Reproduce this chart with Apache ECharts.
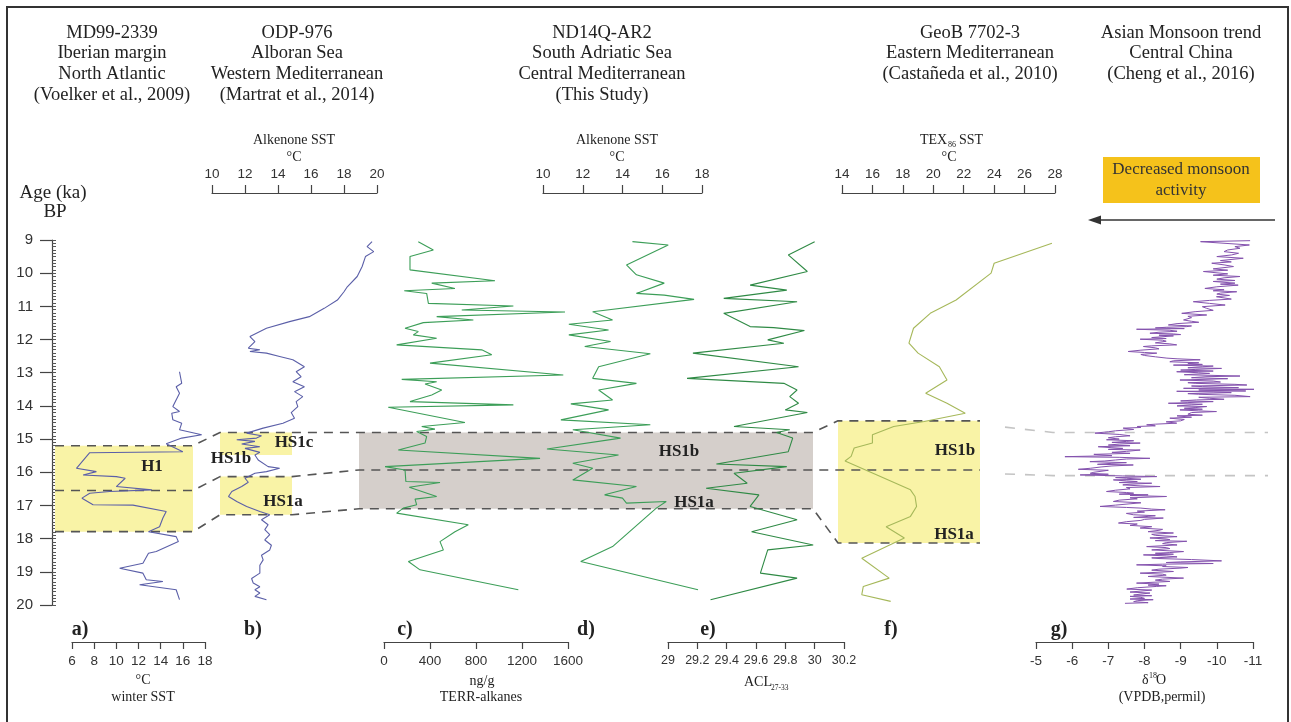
<!DOCTYPE html>
<html><head><meta charset="utf-8">
<script src="https://cdn.jsdelivr.net/npm/echarts@6/dist/echarts.min.js"></script>
<style>html,body{margin:0;padding:0;background:#fff}#c{width:1291px;height:722px}</style>
</head><body><div id="c"></div>
<script>
// ---------- DATA: [age ka BP, value] ----------
const ageTicks = [9,10,11,12,13,14,15,16,17,18,19,20];
// a) MD99-2339 winter SST (°C)
const md99_2339 = [[12.97,15.7],[13.32,15.9],[13.42,15.4],[13.62,15.7],[14.02,15.1],[14.17,15.7],[14.22,15.0],[14.42,15.1],[14.52,15.9],[14.72,15.7],[14.87,17.7],[14.97,15.9],[15.14,14.5],[15.38,16.0],[15.41,7.6],[15.88,6.4],[15.98,8.2],[16.08,7.0],[16.13,10.0],[16.18,10.8],[16.43,10.0],[16.53,13.2],[16.58,9.4],[16.63,7.6],[16.78,6.9],[16.98,7.9],[16.99,11.5],[17.18,14.5],[17.38,14.2],[17.64,13.9],[17.79,12.9],[17.94,15.4],[18.09,15.6],[18.39,13.6],[18.44,12.9],[18.74,12.4],[18.89,10.3],[19.04,12.4],[19.24,12.7],[19.29,14.2],[19.39,12.1],[19.54,15.4],[19.84,15.7]];
// b) ODP-976 alkenone SST (°C)
const odp976 = [[9.05,19.7],[9.2,19.4],[9.35,19.8],[9.5,19.3],[9.8,19.1],[10.1,18.8],[10.41,18.2],[10.56,18.0],[10.81,17.6],[11.06,16.8],[11.31,15.9],[11.46,14.7],[11.66,13.3],[11.91,12.3],[12.06,12.6],[12.26,12.2],[12.31,12.9],[12.36,12.3],[12.41,13.3],[12.51,14.1],[12.61,14.9],[12.82,15.6],[12.97,15.1],[13.12,15.4],[13.27,14.9],[13.42,15.6],[13.57,15.0],[13.72,15.5],[13.87,15.1],[14.02,15.2],[14.2,14.8],[14.37,15.0],[14.52,14.3],[14.67,13.1],[14.82,12.1],[14.9,13.0],[14.97,12.7],[15.02,11.5],[15.07,12.6],[15.15,11.8],[15.23,12.9],[15.28,12.0],[15.33,11.9],[15.4,12.9],[15.48,12.6],[15.63,12.8],[15.83,13.4],[15.88,14.1],[15.98,13.3],[16.03,12.6],[16.18,12.0],[16.3,12.2],[16.43,11.8],[16.58,11.2],[16.73,11.0],[16.88,11.5],[17.03,12.1],[17.18,12.9],[17.28,13.5],[17.43,13.0],[17.58,13.4],[17.73,13.2],[17.88,13.5],[18.04,13.2],[18.2,13.6],[18.34,13.5],[18.5,13.0],[18.64,13.1],[18.8,12.9],[19.04,12.9],[19.2,12.4],[19.34,12.5],[19.45,12.9],[19.54,12.6],[19.64,12.9],[19.74,12.6],[19.84,13.3]];
// c) ND14Q-AR2 TERR-alkanes (ng/g)
const terrAlkanes = [[9.05,298],[9.3,429],[9.5,226],[9.9,226],[10.23,965],[10.3,415],[10.46,617],[10.53,176],[10.61,371],[10.91,386],[10.99,1125],[11.11,676],[11.17,1574],[11.31,458],[11.41,777],[11.49,342],[11.66,183],[11.76,298],[11.86,255],[11.96,458],[12.16,110],[12.31,850],[12.46,937],[12.71,400],[13.07,1559],[13.2,154],[13.27,458],[13.34,357],[13.52,502],[13.67,415],[13.87,226],[13.97,1125],[14.04,37],[14.5,704],[14.62,328],[14.7,443],[14.77,284],[14.92,371],[15.12,357],[15.33,124],[15.58,1357],[15.83,9],[15.93,183],[16.28,190],[16.31,487],[16.45,220],[16.73,458],[16.81,270],[16.98,284],[17.08,168],[17.23,110],[17.58,733],[17.79,617],[18.09,487],[18.34,516],[18.69,212],[18.94,313],[19.54,1168]];
// d) ND14Q-AR2 alkenone SST (°C)
const nd14qSST = [[9.05,14.5],[9.15,16.3],[9.75,14.2],[10.05,14.7],[10.3,16.1],[10.61,14.7],[10.66,16.1],[10.79,17.6],[11.16,12.5],[11.41,13.5],[11.54,11.3],[11.71,13.3],[11.86,11.3],[12.06,13.4],[12.21,12.1],[12.43,15.4],[12.82,12.8],[13.17,12.5],[13.32,14.7],[13.52,12.8],[13.82,13.5],[13.94,11.4],[14.12,13.3],[14.42,10.9],[14.57,15.4],[14.72,11.5],[14.97,13.9],[15.3,10.2],[15.48,13.8],[15.73,11.5],[15.88,12.5],[16.23,11.5],[16.43,14.7],[16.68,13.1],[16.78,14.0],[16.93,14.2],[16.88,16.2],[17.08,15.7],[18.24,13.5],[18.69,11.9],[19.54,17.8]];
// e) ND14Q-AR2 ACL27-33
const acl = [[9.05,30.0],[9.45,29.82],[9.95,29.95],[10.36,29.56],[10.51,29.81],[10.76,29.38],[10.86,29.88],[11.21,29.38],[11.61,29.56],[11.64,29.72],[11.73,29.93],[12.01,29.68],[12.11,29.79],[12.41,29.17],[12.82,29.89],[13.17,29.13],[13.32,29.79],[13.52,29.88],[13.72,29.83],[13.92,29.89],[14.12,29.8],[14.2,29.95],[14.62,29.45],[14.72,29.83],[14.8,29.74],[14.97,29.85],[15.38,29.82],[15.75,29.33],[15.83,29.81],[16.03,29.45],[16.33,29.54],[16.48,29.26],[16.68,29.62],[17.03,29.56],[17.43,29.88],[17.79,29.57],[18.19,29.99],[18.34,29.68],[19.04,29.63],[19.19,29.88],[19.84,29.29]];
// f) GeoB 7702-3 TEX86 SST (°C)
const geoB = [[9.1,27.8],[9.7,24.0],[10.0,23.8],[10.81,21.5],[11.21,19.8],[11.66,18.7],[12.11,18.4],[12.41,19.0],[12.82,20.4],[13.22,20.9],[13.62,19.5],[13.92,20.9],[14.22,22.1],[14.47,19.4],[14.62,17.4],[14.87,16.0],[15.12,16.0],[15.27,14.8],[15.52,14.6],[15.66,14.2],[16.08,16.3],[16.53,18.5],[16.73,18.8],[17.03,18.9],[17.33,18.5],[17.64,16.9],[17.98,18.1],[18.59,15.3],[19.19,17.1],[19.44,15.4],[19.69,15.3],[19.89,17.2]];
// g) Asian monsoon d18O (permil VPDB)
const d18O = [[9.02,-10.92],[9.05,-9.55],[9.1,-9.53],[9.15,-10.9],[9.2,-10.5],[9.25,-10.64],[9.3,-10.3],[9.35,-10.2],[9.4,-10.6],[9.45,-10.41],[9.5,-10.0],[9.55,-10.73],[9.62,-10.1],[9.66,-10.4],[9.7,-9.86],[9.75,-10.2],[9.8,-10.46],[9.87,-9.9],[9.91,-10.3],[9.95,-9.63],[10.02,-10.3],[10.06,-9.9],[10.1,-10.64],[10.14,-10.2],[10.18,-10.0],[10.22,-10.5],[10.25,-9.9],[10.3,-10.5],[10.33,-10.1],[10.36,-10.59],[10.41,-10.0],[10.46,-9.67],[10.5,-10.2],[10.53,-9.9],[10.56,-10.55],[10.6,-10.1],[10.63,-10.0],[10.67,-10.35],[10.71,-9.99],[10.78,-10.4],[10.82,-9.8],[10.86,-9.35],[10.91,-9.8],[10.96,-10.23],[11.01,-9.6],[11.06,-9.72],[11.12,-9.9],[11.16,-9.4],[11.21,-9.03],[11.26,-9.72],[11.3,-9.2],[11.34,-9.3],[11.41,-9.08],[11.45,-9.3],[11.48,-9.5],[11.52,-8.9],[11.56,-8.66],[11.59,-9.3],[11.61,-9.17],[11.63,-8.6],[11.65,-8.3],[11.67,-9.1],[11.69,-7.78],[11.72,-8.7],[11.75,-8.9],[11.78,-8.4],[11.81,-8.15],[11.83,-8.8],[11.85,-9.0],[11.87,-8.4],[11.89,-8.8],[11.94,-8.2],[11.97,-8.6],[11.99,-7.88],[12.02,-8.5],[12.05,-8.6],[12.1,-8.3],[12.13,-8.7],[12.16,-8.89],[12.19,-8.2],[12.21,-7.97],[12.25,-8.3],[12.28,-8.4],[12.32,-7.9],[12.36,-7.55],[12.39,-8.0],[12.41,-8.34],[12.45,-7.9],[12.48,-8.0],[12.52,-8.3],[12.56,-8.62],[12.58,-8.9],[12.61,-9.54],[12.64,-8.8],[12.67,-8.7],[12.7,-9.5],[12.72,-9.2],[12.75,-9.6],[12.77,-8.8],[12.8,-9.9],[12.82,-9.6],[12.85,-9.2],[12.87,-10.13],[12.9,-9.4],[12.92,-9.0],[12.95,-9.9],[12.97,-8.89],[13.0,-9.5],[13.02,-9.8],[13.06,-9.1],[13.1,-10.64],[13.12,-9.7],[13.15,-9.3],[13.18,-10.3],[13.22,-8.98],[13.25,-9.9],[13.28,-10.1],[13.3,-9.2],[13.32,-9.4],[13.35,-10.5],[13.37,-10.83],[13.4,-9.3],[13.42,-9.6],[13.45,-10.6],[13.47,-9.08],[13.49,-10.2],[13.5,-11.15],[13.52,-9.5],[13.53,-9.7],[13.55,-10.8],[13.56,-8.89],[13.58,-9.9],[13.6,-10.4],[13.63,-9.2],[13.65,-9.5],[13.68,-10.5],[13.72,-10.92],[13.74,-9.5],[13.77,-9.8],[13.8,-10.2],[13.82,-9.44],[13.85,-9.0],[13.87,-9.9],[13.9,-9.2],[13.92,-8.66],[13.95,-9.6],[13.97,-9.3],[14.0,-8.9],[14.02,-9.72],[14.05,-9.4],[14.07,-9.1],[14.1,-9.6],[14.12,-8.98],[14.15,-9.5],[14.17,-9.99],[14.2,-9.3],[14.25,-9.2],[14.28,-9.6],[14.3,-8.9],[14.34,-9.3],[14.37,-8.7],[14.41,-9.1],[14.45,-9.0],[14.48,-8.6],[14.52,-8.89],[14.55,-8.3],[14.57,-8.06],[14.6,-8.3],[14.62,-7.8],[14.65,-7.9],[14.67,-7.41],[14.71,-7.7],[14.75,-7.2],[14.78,-7.0],[14.82,-6.63],[14.86,-7.3],[14.9,-7.6],[14.93,-7.2],[14.96,-7.0],[15.0,-7.3],[15.02,-6.95],[15.05,-7.7],[15.07,-7.5],[15.1,-7.1],[15.12,-7.88],[15.15,-7.3],[15.18,-7.0],[15.2,-7.6],[15.23,-6.72],[15.26,-7.1],[15.28,-7.4],[15.31,-7.0],[15.33,-7.88],[15.37,-7.5],[15.4,-7.1],[15.43,-7.6],[15.46,-6.6],[15.5,-7.1],[15.53,-5.8],[15.55,-7.3],[15.58,-8.15],[15.6,-7.5],[15.63,-7.2],[15.66,-6.9],[15.68,-6.49],[15.71,-7.5],[15.73,-7.1],[15.76,-6.7],[15.78,-7.69],[15.81,-7.1],[15.84,-6.8],[15.88,-6.5],[15.91,-6.17],[15.94,-7.0],[15.98,-6.95],[16.0,-6.6],[16.03,-6.5],[16.06,-7.0],[16.08,-6.22],[16.11,-7.4],[16.13,-8.34],[16.16,-7.2],[16.18,-7.5],[16.21,-7.9],[16.23,-7.14],[16.26,-7.5],[16.28,-7.8],[16.31,-7.3],[16.33,-8.2],[16.36,-7.6],[16.38,-7.4],[16.41,-7.9],[16.43,-8.43],[16.46,-7.5],[16.5,-7.6],[16.54,-7.2],[16.58,-6.95],[16.61,-7.5],[16.63,-7.7],[16.66,-7.3],[16.68,-8.1],[16.7,-7.6],[16.73,-8.61],[16.77,-7.6],[16.8,-7.8],[16.84,-7.3],[16.88,-7.14],[16.92,-7.9],[16.95,-7.6],[16.99,-7.2],[17.03,-6.77],[17.06,-7.5],[17.08,-7.9],[17.11,-8.2],[17.13,-8.57],[17.17,-7.8],[17.2,-8.0],[17.24,-7.5],[17.28,-7.69],[17.31,-8.3],[17.33,-8.1],[17.36,-7.7],[17.38,-8.52],[17.42,-8.0],[17.45,-7.9],[17.49,-7.5],[17.53,-7.28],[17.56,-7.8],[17.6,-7.6],[17.64,-8.2],[17.68,-7.88],[17.72,-8.5],[17.75,-8.4],[17.79,-8.1],[17.83,-8.8],[17.87,-8.2],[17.9,-8.3],[17.94,-8.9],[17.98,-8.15],[18.01,-8.6],[18.03,-8.7],[18.06,-8.3],[18.08,-9.17],[18.12,-8.6],[18.15,-8.5],[18.19,-8.9],[18.24,-8.06],[18.27,-8.6],[18.3,-8.7],[18.34,-8.2],[18.39,-9.08],[18.42,-8.7],[18.44,-8.3],[18.47,-8.8],[18.49,-7.97],[18.52,-8.6],[18.55,-8.9],[18.58,-8.2],[18.6,-8.4],[18.63,-9.3],[18.67,-10.13],[18.7,-9.0],[18.72,-8.6],[18.75,-9.9],[18.77,-8.5],[18.79,-7.78],[18.82,-8.6],[18.84,-8.5],[18.87,-9.2],[18.89,-8.98],[18.92,-8.4],[18.95,-8.2],[18.99,-8.8],[19.04,-7.88],[19.07,-8.5],[19.1,-8.6],[19.14,-8.1],[19.19,-9.08],[19.22,-8.5],[19.25,-8.3],[19.29,-8.7],[19.34,-7.78],[19.37,-8.4],[19.4,-8.1],[19.42,-8.6],[19.44,-8.34],[19.48,-7.8],[19.52,-7.51],[19.55,-8.2],[19.58,-7.9],[19.61,-7.6],[19.64,-8.15],[19.67,-7.9],[19.7,-7.7],[19.72,-8.2],[19.74,-7.6],[19.77,-7.9],[19.8,-8.0],[19.82,-7.6],[19.84,-8.24],[19.87,-7.8],[19.9,-7.7],[19.93,-8.1],[19.95,-7.46]];
// event boundaries (ka) used for shading
const h1Ages = [15.2, 16.55, 17.79];
const odpEvents = {hs1cTop:14.8, hs1cBot:15.48, hs1aTop:16.13, hs1aBot:17.28};
const adriaticEvents = [14.8, 15.93, 17.1];
const aegeanEvents = [14.45, 15.93, 18.13];
const monsoonEvents = [14.8, 16.1];

// ---------- STYLE ----------
const SERIF = "'Liberation Serif','DejaVu Serif',serif";
const SANS = "'Liberation Sans Narrow','Liberation Sans',sans-serif";
const AX = '#444';
const YEL = '#f9f3a6', GRAY = '#d5cfcb', DASH = '#555';

const chart = echarts.init(document.getElementById('c'));

const grids = [
  {left:52, top:240, width:1, height:365},
  {left:72, top:240, width:133, height:365},
  {left:212, top:240, width:165, height:365},
  {left:384, top:240, width:184, height:365},
  {left:543, top:240, width:159, height:365},
  {left:668, top:240, width:176, height:365},
  {left:842, top:240, width:213, height:365},
  {left:1036, top:240, width:217, height:365},
  {left:0, top:240, width:1291, height:365}
];

function valAxis(g, min, max, interval, pos, inverse, fmt, fs) {
  return {gridIndex:g, type:'value', min, max, interval, inverse:!!inverse, position:pos,
    offset: pos==='bottom'?37:47,
    axisLine:{show:true, onZero:false, lineStyle:{color:AX, width:1.2}},
    axisTick:{show:true, length: pos==='bottom'?7:8, lineStyle:{color:AX, width:1.2}},
    axisLabel:{fontFamily:SANS, fontSize:fs||13.5, color:'#333', margin:12, formatter: fmt || (v=>String(v))},
    splitLine:{show:false}};
}
const hiddenX = (g,min,max)=>({gridIndex:g, type:'value', min, max, show:false});
const ageY = g => ({gridIndex:g, type:'value', min:9, max:20, inverse:true, show:false});

const xAxes = [
  hiddenX(0,0,1),
  valAxis(1,6,18,2,'bottom'),
  valAxis(2,10,20,2,'top'),
  valAxis(3,0,1600,400,'bottom'),
  valAxis(4,10,18,2,'top'),
  valAxis(5,29,30.2,0.2,'bottom',false,v=>String(+v.toFixed(1)),12.5),
  valAxis(6,14,28,2,'top'),
  valAxis(7,-11,-5,1,'bottom',true),
  hiddenX(8,0,1291)
];
const yAxes = [
  {gridIndex:0, type:'value', min:9, max:20, interval:1, inverse:true, position:'left',
   axisLine:{show:true, lineStyle:{color:AX, width:1.2}},
   axisTick:{show:true, length:12, lineStyle:{color:AX, width:1.2}},
   axisLabel:{fontFamily:SANS, fontSize:15, color:'#333', margin:19,
     formatter:v=> ageTicks.includes(v)? String(v):''},
   splitLine:{show:false}},
  {gridIndex:0, type:'value', min:9, max:20, interval:0.1, inverse:true, position:'left',
   axisLine:{show:false}, axisTick:{show:true, inside:true, length:4, lineStyle:{color:'#555', width:1}},
   axisLabel:{show:false}, splitLine:{show:false}},
  ageY(1), ageY(2), ageY(3), ageY(4), ageY(5), ageY(6), ageY(7), ageY(8)
];

function curve(data, xi, yi, color, w) {
  return {type:'line', xAxisIndex:xi, yAxisIndex:yi, data:data.map(p=>[p[1],p[0]]),
    showSymbol:false, symbol:'none', clip:false, silent:true, z:5, animation:false,
    lineStyle:{color, width:w||1.1}};
}
function dashed(pts, color, w, dash) {
  return {type:'line', xAxisIndex:8, yAxisIndex:9, data:pts, showSymbol:false, symbol:'none',
    silent:true, z:4, animation:false,
    lineStyle:{color:color||DASH, width:w||1.6, type:dash||[9,7]}};
}

const boxAreas = [
  [{coord:[55,h1Ages[0]], itemStyle:{color:YEL}}, {coord:[193,h1Ages[2]]}],
  [{coord:[220,odpEvents.hs1cTop], itemStyle:{color:YEL}}, {coord:[292,odpEvents.hs1cBot]}],
  [{coord:[220,odpEvents.hs1aTop], itemStyle:{color:YEL}}, {coord:[292,odpEvents.hs1aBot]}],
  [{coord:[359,adriaticEvents[0]], itemStyle:{color:GRAY}}, {coord:[813,adriaticEvents[2]]}],
  [{coord:[838,aegeanEvents[0]], itemStyle:{color:YEL}}, {coord:[980,aegeanEvents[2]]}]
];

const series = [
  {type:'line', xAxisIndex:8, yAxisIndex:9, data:[[0,9]], symbol:'none', silent:true, z:1,
   lineStyle:{opacity:0}, animation:false,
   markArea:{silent:true, animation:false, itemStyle:{opacity:1}, data:boxAreas}},
  dashed([[55,h1Ages[0]],[193,h1Ages[0]],[220,odpEvents.hs1cTop],[813,adriaticEvents[0]],[838,aegeanEvents[0]],[980,aegeanEvents[0]]]),
  dashed([[55,h1Ages[1]],[193,h1Ages[1]],[220,odpEvents.hs1aTop],[292,odpEvents.hs1aTop],[359,adriaticEvents[1]],[980,aegeanEvents[1]]]),
  dashed([[55,h1Ages[2]],[193,h1Ages[2]],[220,odpEvents.hs1aBot],[292,odpEvents.hs1aBot],[359,adriaticEvents[2]],[813,adriaticEvents[2]],[838,aegeanEvents[2]],[980,aegeanEvents[2]]]),
  dashed([[1005,14.64],[1053,monsoonEvents[0]],[1268,monsoonEvents[0]]], '#c4c4c4', 1.6, [10,10]),
  dashed([[1005,16.05],[1053,monsoonEvents[1]],[1268,monsoonEvents[1]]], '#c4c4c4', 1.6, [10,10]),
  curve(md99_2339,1,2,'#5b5fa8'),
  curve(odp976,2,3,'#5b5fa8'),
  curve(terrAlkanes,3,4,'#3c9e58'),
  curve(nd14qSST,4,5,'#3c9e58'),
  curve(acl,5,6,'#2f8a45'),
  curve(geoB,6,7,'#a6b85a'),
  curve(d18O,7,8,'#8452ae',1)
];

// ---------- TEXT ----------
function T(text, x, y, o) {
  o = o || {};
  return {type:'text', x, y, z:100, silent:true,
    style:{text, fill:o.color||'#222', font:(o.bold?'bold ':'')+(o.size||18)+'px '+(o.family||SERIF),
      textAlign:o.align||'center', textVerticalAlign:'middle'}};
}
const headers = [
  [112,['MD99-2339','Iberian margin','North Atlantic','(Voelker et al., 2009)']],
  [297,['ODP-976','Alboran Sea','Western Mediterranean','(Martrat et al., 2014)']],
  [602,['ND14Q-AR2','South Adriatic Sea','Central Mediterranean','(This Study)']],
  [970,['GeoB 7702-3','Eastern Mediterranean','(Castañeda et al., 2010)']],
  [1181,['Asian Monsoon trend','Central China','(Cheng et al., 2016)']]
];
const lineY = [33,53,74,95];
const texts = [];
headers.forEach(([x,lines])=>lines.forEach((s,i)=>texts.push(T(s,x,lineY[i],{size:18.5}))));
texts.push(T('Age (ka)',53,193,{size:19}), T('BP',55,212,{size:19}));
// top axis titles
texts.push(T('Alkenone SST',294,140,{size:14}), T('°C',294,157,{size:14}));
texts.push(T('Alkenone SST',617,140,{size:14}), T('°C',617,157,{size:14}));
texts.push(T('TEX',920,140,{size:14,align:'left'}), T('86',948,145,{size:8,align:'left'}), T('SST',959,140,{size:14,align:'left'}), T('°C',949,157,{size:14}));
// bottom axis titles
texts.push(T('°C',143,680,{size:14}), T('winter SST',143,697,{size:14}));
texts.push(T('ng/g',482,681,{size:14}), T('TERR-alkanes',481,697,{size:14}));
texts.push(T('ACL',744,682,{size:14,align:'left'}), T('27-33',771,688,{size:7.5,align:'left'}));
texts.push(T('δ',1142,680,{size:14,align:'left'}), T('18',1149,676,{size:8,align:'left'}), T('O',1156,680,{size:14,align:'left'}), T('(VPDB,permil)',1162,697,{size:14}));
// panel letters
[['a)',80],['b)',253],['c)',405],['d)',586],['e)',708],['f)',891],['g)',1059]].forEach(([s,x])=>texts.push(T(s,x,630,{size:20,bold:true})));
// event labels
[['H1',152,467],['HS1c',294,443],['HS1b',231,459],['HS1a',283,502],['HS1b',679,452],['HS1a',694,503],['HS1b',955,451],['HS1a',954,535]]
  .forEach(([s,x,y])=>texts.push(T(s,x,y,{size:17,bold:true})));

const graphics = [
  {type:'rect', z:0, silent:true, shape:{x:7,y:7,width:1281,height:740}, style:{fill:'none', stroke:'#333', lineWidth:2}},
  {type:'rect', z:1, silent:true, shape:{x:1103,y:157,width:157,height:46}, style:{fill:'#f5c21b'}},
  T('Decreased monsoon',1181,170,{size:17,color:'#333'}),
  T('activity',1181,191,{size:17,color:'#333'}),
  {type:'line', z:1, silent:true, shape:{x1:1096,y1:220,x2:1275,y2:220}, style:{stroke:'#333', lineWidth:1.5}},
  {type:'polygon', z:1, silent:true, shape:{points:[[1088,220],[1101,215.5],[1101,224.5]]}, style:{fill:'#333'}},
  ...texts
];

chart.setOption({
  animation:false,
  backgroundColor:'#fff',
  grid:grids, xAxis:xAxes, yAxis:yAxes, series, graphic:graphics
});
</script></body></html>
